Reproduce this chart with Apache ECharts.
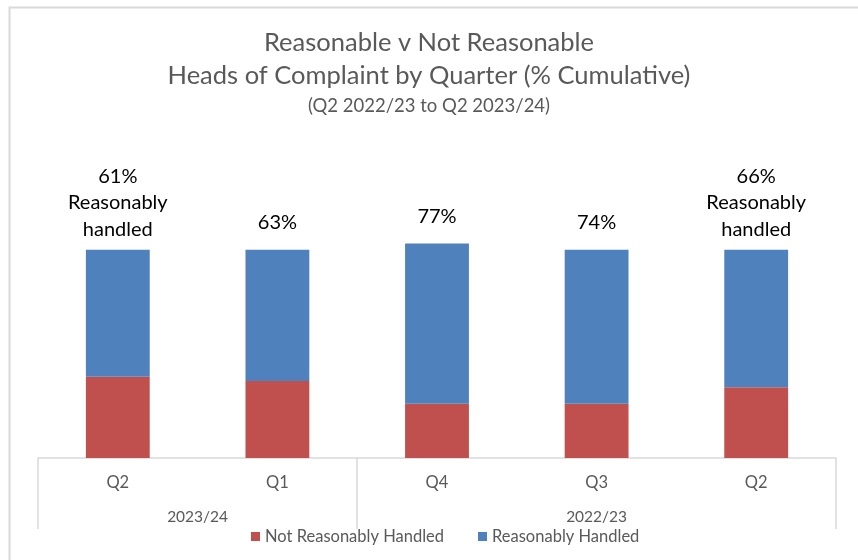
<!DOCTYPE html>
<html>
<head>
<meta charset="utf-8">
<script src="https://cdn.jsdelivr.net/npm/echarts@6/dist/echarts.min.js"></script>
<style>
  html, body { margin: 0; padding: 0; background: #fff; }
  #chart { width: 858px; height: 560px; }
</style>
</head>
<body>
<div id="chart"></div>
<script>
// Quarters, newest first, grouped under their financial year
const quarters = ['Q2', 'Q1', 'Q4', 'Q3', 'Q2'];
const years = ['2023/24', '2022/23'];
const yearSpans = [2, 3];            // number of quarters in each year group

// Percentage of heads of complaint
const notReasonable = [39, 37, 26, 26, 34];
const reasonable = [61, 63, 77, 74, 66];

// Text shown above each bar
const barLabels = [
  '61%\nReasonably\nhandled',
  '63%',
  '77%',
  '74%',
  '66%\nReasonably\nhandled'
];

const FONT = 'Lato, "Open Sans", sans-serif';
const GREY = '#595959';
const RULE = '#D9D9D9';

// Group boundaries and centres on a 0..N value scale
const groupEdges = [0];
yearSpans.forEach(s => groupEdges.push(groupEdges[groupEdges.length - 1] + s));
const groupCentres = yearSpans.map((s, i) => groupEdges[i] + s / 2);

const reasonableData = reasonable.map((v, i) => {
  const multi = barLabels[i].indexOf('\n') >= 0;
  return {
    value: v,
    label: { formatter: barLabels[i], distance: multi ? 7 : 14 }
  };
});

const chart = echarts.init(document.getElementById('chart'));
chart.setOption({
  animation: false,
  backgroundColor: '#fff',
  title: [
    { text: 'Reasonable v Not Reasonable', left: 'center', top: 25,
      textStyle: { fontFamily: FONT, fontSize: 25.5, fontWeight: 'normal', color: GREY } },
    { text: 'Heads of Complaint by Quarter (% Cumulative)', left: 'center', top: 58,
      textStyle: { fontFamily: FONT, fontSize: 25.5, fontWeight: 'normal', color: GREY } },
    { text: '(Q2 2022/23 to Q2 2023/24)', left: 'center', top: 92,
      textStyle: { fontFamily: FONT, fontSize: 18.5, fontWeight: 'normal', color: GREY } }
  ],
  graphic: [{
    type: 'rect',
    shape: { x: 9.5, y: 7.5, width: 900, height: 600 },
    style: { fill: 'none', stroke: RULE, lineWidth: 2 },
    silent: true
  }],
  legend: {
    bottom: 10,
    left: 246,
    icon: 'rect',
    itemWidth: 9,
    itemHeight: 9,
    itemGap: 34,
    itemStyle: { borderWidth: 0 },
    textStyle: { fontFamily: FONT, fontSize: 16.5, color: GREY },
    data: ['Not Reasonably Handled', 'Reasonably Handled']
  },
  grid: { left: 38, right: 22, top: 208, bottom: 102, containLabel: false },
  xAxis: [
    {
      type: 'category',
      data: quarters,
      position: 'bottom',
      axisLine: { show: true, lineStyle: { color: RULE, width: 1.5 } },
      axisTick: { show: false },
      axisLabel: { margin: 16, fontFamily: FONT, fontSize: 16.5, color: GREY }
    },
    {
      type: 'value',
      min: 0,
      max: quarters.length,
      position: 'bottom',
      axisLine: { show: false },
      splitLine: { show: false },
      axisTick: {
        show: true,
        customValues: groupEdges,
        length: 71,
        lineStyle: { color: RULE, width: 1.5 }
      },
      axisLabel: {
        customValues: groupCentres,
        margin: 51,
        fontFamily: FONT,
        fontSize: 15.5,
        color: GREY,
        formatter: function (v) {
          const idx = groupCentres.indexOf(v);
          return idx >= 0 ? years[idx] : '';
        }
      }
    }
  ],
  yAxis: {
    type: 'value',
    min: 0,
    max: 120,
    show: false,
    splitLine: { show: false }
  },
  series: [
    {
      name: 'Not Reasonably Handled',
      type: 'bar',
      stack: 'total',
      xAxisIndex: 0,
      barWidth: '40%',
      itemStyle: { color: '#C0504D' },
      data: notReasonable
    },
    {
      name: 'Reasonably Handled',
      type: 'bar',
      stack: 'total',
      xAxisIndex: 0,
      barWidth: '40%',
      itemStyle: { color: '#4F81BD' },
      label: {
        show: true,
        position: 'top',
        fontFamily: FONT,
        fontSize: 20,
        lineHeight: 26.5,
        color: '#000',
        align: 'center'
      },
      data: reasonableData
    }
  ]
});
</script>
</body>
</html>
